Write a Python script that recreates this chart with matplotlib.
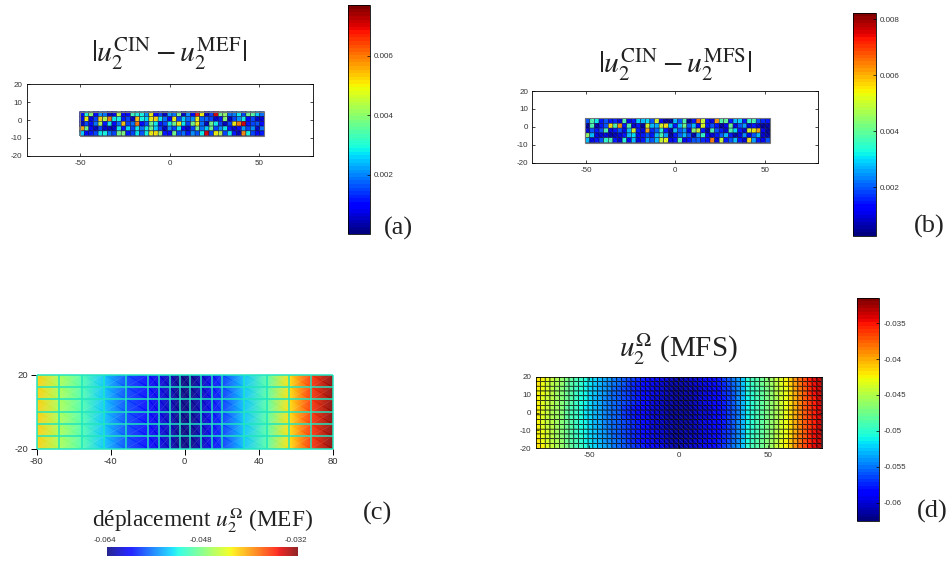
#!/usr/bin/env python3
"""Four mesh panels: displacement errors (a, b) and displacement fields (c, d)."""
import numpy as np
import matplotlib
matplotlib.use("Agg")
import matplotlib.pyplot as plt
from matplotlib.transforms import ScaledTranslation

plt.rcParams["font.family"] = ["Liberation Sans", "DejaVu Sans"]
plt.rcParams["mathtext.fontset"] = "stix"
plt.rcParams["axes.unicode_minus"] = False

W, H = 951, 561
SERIF = ["Liberation Serif", "DejaVu Serif"]
TICK_COLOR = "#333333"

# panel (a): |CIN - MEF|, unit 1e-3, top row first
a_row1 = [1.0, 2.9, 4.0, 1.0, 2.1, 1.9, 0.6, 0.7, 4.4, 0.9, 1.0, 3.3, 2.9, 3.0, 2.1, 5.0, 1.0, 1.5, 0.4, 2.2,
          1.9, 3.8, 0.5, 2.1, 1.0, 6.8, 5.0, 0.6, 1.5, 7.0, 3.8, 4.2, 1.9, 2.0, 2.8, 1.5, 3.8, 3.6, 2.6, 1.9]
a_row2 = [0.8, 5.0, 0.7, 1.5, 5.2, 4.4, 6.0, 2.8, 3.0, 1.1, 1.5, 0.4, 5.4, 2.9, 2.7, 5.0, 5.2, 2.8, 1.9, 1.0,
          5.0, 1.5, 2.6, 1.9, 2.1, 5.0, 1.8, 1.8, 1.5, 0.5, 1.1, 4.0, 0.4, 1.5, 2.1, 2.8, 1.0, 1.5, 0.5, 0.6]
a_row3 = [0.4, 1.5, 1.0, 1.9, 4.4, 1.1, 2.8, 1.0, 1.9, 5.4, 1.5, 1.9, 6.0, 1.0, 1.6, 3.8, 2.8, 1.1, 1.5, 2.8,
          3.8, 5.0, 2.8, 1.5, 3.8, 5.0, 1.9, 0.4, 3.8, 2.8, 1.5, 0.4, 1.5, 5.0, 6.0, 7.0, 1.1, 1.5, 1.6, 1.0]
a_row4 = [5.6, 3.8, 1.0, 0.4, 1.5, 0.5, 0.4, 0.5, 2.8, 1.1, 2.7, 1.5, 2.8, 1.9, 2.8, 3.8, 2.6, 1.5, 0.4, 2.1,
          1.5, 2.8, 1.0, 0.5, 1.5, 3.8, 1.9, 2.6, 3.8, 1.5, 2.1, 2.8, 1.1, 0.5, 1.0, 2.2, 1.5, 2.1, 0.6, 1.9]
a_row5 = [2.6, 1.0, 1.1, 1.5, 2.8, 2.9, 1.9, 1.5, 3.8, 3.9, 1.1, 1.5, 2.8, 1.6, 2.9, 5.0, 5.1, 4.2, 1.1, 1.0,
          3.8, 1.5, 1.9, 1.1, 2.1, 1.6, 2.8, 7.0, 1.5, 5.0, 4.4, 1.5, 2.8, 1.1, 0.4, 5.8, 2.9, 1.5, 1.0, 1.1]

# panel (b): |CIN - MFS|, unit 1e-3, top row first
b_row1 = [1.9, 3.8, 3.2, 1.5, 1.9, 1.5, 1.6, 1.0, 3.8, 1.1, 1.5, 2.9, 2.8, 3.0, 1.9, 5.2, 1.1, 0.4, 0.5, 2.8,
          1.9, 3.8, 0.5, 1.5, 6.6, 5.0, 1.5, 1.0, 6.2, 3.8, 4.0, 1.5, 2.8, 2.9, 1.5, 3.6, 3.8, 1.9, 1.6, 1.5]
b_row2 = [0.5, 3.8, 0.6, 1.5, 1.9, 5.6, 3.8, 6.2, 1.5, 3.8, 0.8, 1.5, 0.5, 5.2, 2.8, 2.7, 5.2, 5.6, 2.9, 1.5,
          2.8, 4.2, 1.9, 2.8, 1.1, 5.2, 1.5, 1.9, 1.5, 0.5, 1.1, 4.0, 1.0, 1.9, 2.6, 1.0, 1.5, 0.8, 0.5, 0.6]
b_row3 = [1.0, 1.9, 1.5, 1.9, 3.8, 1.0, 1.5, 1.9, 1.1, 2.8, 5.2, 1.5, 0.9, 6.0, 1.6, 2.1, 3.4, 1.5, 0.6, 2.8,
          1.9, 2.6, 1.0, 4.4, 5.0, 1.5, 0.5, 3.8, 1.9, 1.5, 0.8, 3.8, 3.0, 1.5, 0.8, 5.2, 5.4, 6.0, 1.1, 0.5]
b_row4 = [4.6, 2.8, 1.0, 0.8, 1.0, 0.6, 0.7, 1.0, 1.5, 2.8, 3.0, 1.1, 1.5, 1.9, 1.5, 2.8, 3.8, 2.6, 0.5, 1.5,
          2.1, 2.8, 1.9, 0.6, 2.6, 3.6, 1.1, 0.8, 1.5, 2.1, 2.8, 1.5, 0.6, 1.0, 2.4, 1.1, 1.9, 2.8, 0.8, 0.6]
b_row5 = [2.8, 1.0, 1.5, 1.9, 3.6, 3.8, 1.5, 0.8, 3.4, 1.1, 2.8, 1.0, 1.5, 2.6, 1.9, 2.8, 5.0, 5.3, 1.1, 1.5,
          3.8, 1.1, 1.5, 1.9, 2.1, 1.6, 1.5, 6.4, 1.0, 5.0, 1.5, 1.9, 2.8, 1.5, 0.8, 5.6, 2.6, 1.5, 1.1, 1.9]

err_ticks_a = [0.002, 0.004, 0.006]
err_ticks_b = [0.002, 0.004, 0.006, 0.008]
err_range_a = (0.00001, 0.00769)
err_range_b = (0.00026, 0.00823)

# panel (c): mesh node positions and displacement at the nodes
c_x = [-80, -68, -55.6, -43.6, -31.5, -19.6, -14, -8, -2.4, 3, 8.8, 14.8, 20, 32, 44.5, 56.5, 68.5, 80]
c_y = [-20, -13.3, -6.7, 0, 6.7, 13.3, 20]
c_values = [-0.0418, -0.0462, -0.0498, -0.0538, -0.0578, -0.0600, -0.0612, -0.0625, -0.0640, -0.0640,
            -0.0625, -0.0608, -0.0585, -0.0540, -0.0495, -0.0425, -0.0365, -0.0322]
c_ticks_x = [-80, -40, 0, 40, 80]
c_ticks_y = [-20, 20]
c_bar_ticks = [-0.064, -0.048, -0.032]

# panel (d): displacement per column, and how much lighter each row is (top first)
d_columns = [-.0425, -.0433, -.0442, -.0451, -.0460, -.0470, -.0480, -.0490, -.0498, -.0506,
             -.0514, -.0522, -.0530, -.0537, -.0544, -.0550, -.0556, -.0562, -.0567, -.0572,
             -.0577, -.0582, -.0587, -.0592, -.0597, -.0602, -.0607, -.0612, -.0616, -.0620,
             -.0620, -.0617, -.0613, -.0609, -.0605, -.0601, -.0596, -.0591, -.0585, -.0578,
             -.0570, -.0560, -.0548, -.0532, -.0510, -.0502, -.0494, -.0484, -.0474, -.0464,
             -.0452, -.0441, -.0430, -.0416, -.0400, -.0385, -.0372, -.0360, -.0350, -.0340]
d_row_shift = [.0008, .0005, .0003, .0002, .0001, .0001, 0, 0, 0, .0001, .0001, .0002, .0003, .0005, .0008]
d_ticks = [-0.06, -0.055, -0.05, -0.045, -0.04, -0.035]
d_range = (-0.0625, -0.0315)


def box(fig, x0, y0, x1, y1):
    # axes from pixel corners of the 951x561 picture
    return fig.add_axes([x0 / W, 1 - y1 / H, (x1 - x0) / W, (y1 - y0) / H])


def vertical_bar(fig, mesh, rect, ticks, labels):
    cax = box(fig, *rect)
    cbar = fig.colorbar(mesh, cax=cax, ticks=ticks)
    cbar.ax.set_yticklabels(labels)
    cbar.ax.tick_params(direction="in", length=2, width=0.5, labelsize=5.8, pad=3,
                        labelcolor=TICK_COLOR, right=True)
    cbar.outline.set_linewidth(0.6)
    return cbar


def diagonals(ax, xs, ys, color, alpha, lw=0.5):
    for i in range(len(xs) - 1):
        for j in range(len(ys) - 1):
            ax.plot([xs[i], xs[i + 1]], [ys[j], ys[j + 1]], color=color, alpha=alpha, lw=lw)


def style_box(ax, xticks, yticks, labelsize=5.8):
    ax.set_xlim(-80, 80)
    ax.set_ylim(-20, 20)
    ax.set_xticks(xticks)
    ax.set_yticks(yticks)
    ax.tick_params(direction="in", length=2, width=0.5, labelsize=labelsize, pad=3,
                   labelcolor=TICK_COLOR, top=True, right=True)
    for spine in ax.spines.values():
        spine.set_linewidth(0.6)


def error_panel(fig, rect, rows, vrange, cbar_rect, ticks, cmap):
    ax = box(fig, *rect)
    xs = np.linspace(-50.4, 53, len(rows[0]) + 1)
    ys = np.linspace(4.7, -8.8, len(rows) + 1)
    vals = np.array(rows) * 1e-3
    mesh = ax.pcolormesh(xs, ys, vals, cmap=cmap, vmin=vrange[0], vmax=vrange[1],
                         edgecolors="#101030", linewidth=0.35, antialiased=True)
    mesh.set_snap(False)
    diagonals(ax, xs, ys, "#2a50ff", 0.45, 0.3)
    ax.add_patch(plt.Rectangle((xs[0], ys[-1]), xs[-1] - xs[0], ys[0] - ys[-1], fill=False,
                               edgecolor="#777777", lw=0.8))
    style_box(ax, [-50, 0, 50], [-20, -10, 0, 10, 20])
    vertical_bar(fig, mesh, cbar_rect, ticks, [f"{t:g}" for t in ticks])


def main():
    jet64 = plt.get_cmap("jet", 64)
    fig = plt.figure(figsize=(W / 100, H / 100), dpi=100)

    # (a)
    error_panel(fig, (26.7, 84.3, 312.7, 155.7), [a_row1, a_row2, a_row3, a_row4, a_row5],
                err_range_a, (348, 5.3, 370, 234), err_ticks_a, jet64)
    fig.text(169 / W, 1 - 54 / H, r"$|u_2^{\mathrm{CIN}} - u_2^{\mathrm{MEF}}|$",
             fontsize=21.4, ha="center", va="center", color="#222222")
    fig.text(398 / W, 1 - 228 / H, "(a)", family=SERIF, fontsize=19, ha="center", va="center", color="#222222")

    # (b)
    error_panel(fig, (532.3, 91, 818.3, 162.7), [b_row1, b_row2, b_row3, b_row4, b_row5],
                err_range_b, (853.3, 12.7, 875.7, 235.7), err_ticks_b, jet64)
    fig.text(675 / W, 1 - 65 / H, r"$|u_2^{\mathrm{CIN}} - u_2^{\mathrm{MFS}}|$",
             fontsize=21.4, ha="center", va="center", color="#222222")
    fig.text(929 / W, 1 - 226 / H, "(b)", family=SERIF, fontsize=19, ha="center", va="center", color="#222222")

    # (c)
    ax = box(fig, 36.7, 374.7, 332.7, 448.7)
    grid = np.tile(c_values, (len(c_y), 1))
    mesh = ax.pcolormesh(c_x, c_y, grid, cmap="jet", vmin=c_bar_ticks[0], vmax=c_bar_ticks[-1],
                         shading="gouraud", alpha=0.9)
    diagonals(ax, c_x, c_y, "white", 0.28, 0.4)
    ax.vlines(c_x, c_y[0], c_y[-1], color="#22e6c0", lw=1.1, clip_on=False)
    ax.hlines(c_y, c_x[0], c_x[-1], color="#22e6c0", lw=1.1, clip_on=False)
    ax.set_xlim(-80, 80)
    ax.set_ylim(-20, 20)
    ax.set_xticks(c_ticks_x)
    ax.set_yticks(c_ticks_y)
    ax.tick_params(direction="out", length=4, width=0.7, labelsize=6.8, pad=2, labelcolor=TICK_COLOR)
    for spine in ax.spines.values():
        spine.set_visible(False)

    cax = box(fig, 107.3, 547, 297.7, 556.3)
    cbar = fig.colorbar(mesh, cax=cax, orientation="horizontal", ticks=c_bar_ticks)
    cbar.solids.set_alpha(0.85)
    cbar.ax.set_xticklabels(["-0.064", "-0.048", "-0.032"])
    cbar.ax.xaxis.set_ticks_position("top")
    cbar.ax.tick_params(length=0, labelsize=5.8, pad=2.5, labelcolor=TICK_COLOR)
    cbar.outline.set_visible(False)
    shift = ScaledTranslation(-2 / 100, 0, fig.dpi_scale_trans)
    for label in cbar.ax.get_xticklabels():
        label.set_transform(label.get_transform() + shift)
    fig.text(202 / W, 1 - 520 / H, "déplacement $u_2^{\\Omega}$ (MEF)", family=SERIF,
             fontsize=16.8, ha="center", va="center", color="#222222")
    fig.text(377 / W, 1 - 513 / H, "(c)", family=SERIF, fontsize=19, ha="center", va="center", color="#222222")

    # (d)
    ax = box(fig, 535.7, 376.7, 821.7, 448.3)
    xs = np.linspace(-80, 80, len(d_columns) + 1)
    ys = np.linspace(20, -20, len(d_row_shift) + 1)
    vals = np.array(d_columns)[None, :] + np.array(d_row_shift)[:, None]
    mesh = ax.pcolormesh(xs, ys, vals, cmap=jet64, vmin=d_range[0], vmax=d_range[1],
                         edgecolors="black", linewidth=0.45, antialiased=True)
    mesh.set_snap(False)
    diagonals(ax, xs, ys, "white", 0.25, 0.3)
    style_box(ax, [-50, 0, 50], [-20, -10, 0, 10, 20])
    vertical_bar(fig, mesh, (857.3, 298, 879, 520.7), d_ticks, [f"{t:g}" for t in d_ticks])
    fig.text(678 / W, 1 - 349 / H, r"$u_2^{\Omega}$ (MFS)", family=SERIF, fontsize=21,
             ha="center", va="center", color="#222222")
    fig.text(932 / W, 1 - 511 / H, "(d)", family=SERIF, fontsize=19, ha="center", va="center", color="#222222")

    fig.savefig("out.png", dpi=100)


if __name__ == "__main__":
    main()
